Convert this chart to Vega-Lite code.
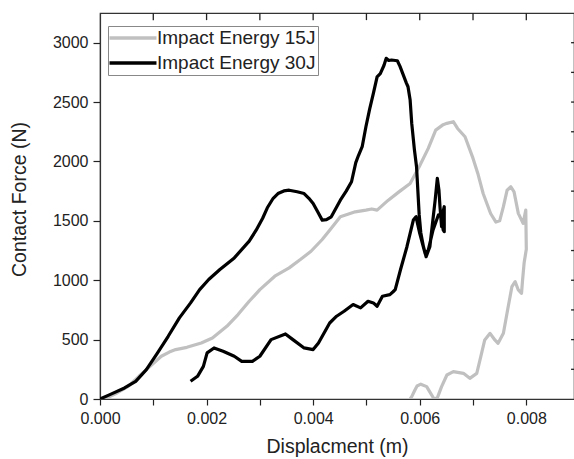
{
"$schema": "https://vega.github.io/schema/vega-lite/v6.json",
"width": 474, "height": 386,
"autosize": {"type": "none"},
"padding": {"left": 100, "top": 13, "right": 0, "bottom": 60},
"config": {"view": {"stroke": "#333", "strokeWidth": 1.2}, "font": "Liberation Sans",
  "axis": {"grid": false, "domainColor": "#333", "domainWidth": 1.2, "tickColor": "#222", "tickWidth": 1.2, "labelFont": "Liberation Sans", "labelFontSize": 16, "labelColor": "#222", "titleFont": "Liberation Sans", "titleFontSize": 19.5, "titleFontWeight": "normal", "titleColor": "#222"}},
"datasets": {
"ticksx": [{"t":0.001},{"t":0.002},{"t":0.003},{"t":0.004},{"t":0.005},{"t":0.006},{"t":0.007},{"t":0.008}],
"ticksy": [{"t":250},{"t":500},{"t":750},{"t":1000},{"t":1250},{"t":1500},{"t":1750},{"t":2000},{"t":2250},{"t":2500},{"t":2750},{"t":3000}]
},
"data": {"values": [
{"s":"Impact Energy 15J","i":0,"x":0,"y":0},
{"s":"Impact Energy 15J","i":1,"x":0.00015,"y":15},
{"s":"Impact Energy 15J","i":2,"x":0.00032,"y":51},
{"s":"Impact Energy 15J","i":3,"x":0.00053,"y":107},
{"s":"Impact Energy 15J","i":4,"x":0.00073,"y":191},
{"s":"Impact Energy 15J","i":5,"x":0.00094,"y":275},
{"s":"Impact Energy 15J","i":6,"x":0.00115,"y":360},
{"s":"Impact Energy 15J","i":7,"x":0.0013,"y":395},
{"s":"Impact Energy 15J","i":8,"x":0.00142,"y":416},
{"s":"Impact Energy 15J","i":9,"x":0.00163,"y":435},
{"s":"Impact Energy 15J","i":10,"x":0.0019,"y":472},
{"s":"Impact Energy 15J","i":11,"x":0.00211,"y":514},
{"s":"Impact Energy 15J","i":12,"x":0.00238,"y":612},
{"s":"Impact Energy 15J","i":13,"x":0.00259,"y":711},
{"s":"Impact Energy 15J","i":14,"x":0.0028,"y":823},
{"s":"Impact Energy 15J","i":15,"x":0.003,"y":921},
{"s":"Impact Energy 15J","i":16,"x":0.00328,"y":1034},
{"s":"Impact Energy 15J","i":17,"x":0.00355,"y":1104},
{"s":"Impact Energy 15J","i":18,"x":0.00376,"y":1174},
{"s":"Impact Energy 15J","i":19,"x":0.00396,"y":1244},
{"s":"Impact Energy 15J","i":20,"x":0.00417,"y":1343},
{"s":"Impact Energy 15J","i":21,"x":0.00431,"y":1421},
{"s":"Impact Energy 15J","i":22,"x":0.00451,"y":1534},
{"s":"Impact Energy 15J","i":23,"x":0.00479,"y":1576},
{"s":"Impact Energy 15J","i":24,"x":0.00499,"y":1590},
{"s":"Impact Energy 15J","i":25,"x":0.0051,"y":1600},
{"s":"Impact Energy 15J","i":26,"x":0.0052,"y":1590},
{"s":"Impact Energy 15J","i":27,"x":0.00541,"y":1674},
{"s":"Impact Energy 15J","i":28,"x":0.00561,"y":1744},
{"s":"Impact Energy 15J","i":29,"x":0.00582,"y":1815},
{"s":"Impact Energy 15J","i":30,"x":0.00599,"y":1955},
{"s":"Impact Energy 15J","i":31,"x":0.00616,"y":2110},
{"s":"Impact Energy 15J","i":32,"x":0.0063,"y":2264},
{"s":"Impact Energy 15J","i":33,"x":0.00644,"y":2310},
{"s":"Impact Energy 15J","i":34,"x":0.00651,"y":2321},
{"s":"Impact Energy 15J","i":35,"x":0.00663,"y":2335},
{"s":"Impact Energy 15J","i":36,"x":0.00671,"y":2278},
{"s":"Impact Energy 15J","i":37,"x":0.00685,"y":2208},
{"s":"Impact Energy 15J","i":38,"x":0.00699,"y":2039},
{"s":"Impact Energy 15J","i":39,"x":0.00709,"y":1899},
{"s":"Impact Energy 15J","i":40,"x":0.00719,"y":1730},
{"s":"Impact Energy 15J","i":41,"x":0.00733,"y":1562},
{"s":"Impact Energy 15J","i":42,"x":0.00743,"y":1490},
{"s":"Impact Energy 15J","i":43,"x":0.0075,"y":1500},
{"s":"Impact Energy 15J","i":44,"x":0.00757,"y":1619},
{"s":"Impact Energy 15J","i":45,"x":0.00764,"y":1758},
{"s":"Impact Energy 15J","i":46,"x":0.00771,"y":1787},
{"s":"Impact Energy 15J","i":47,"x":0.00777,"y":1744},
{"s":"Impact Energy 15J","i":48,"x":0.00785,"y":1563},
{"s":"Impact Energy 15J","i":49,"x":0.00794,"y":1479},
{"s":"Impact Energy 15J","i":50,"x":0.00799,"y":1591},
{"s":"Impact Energy 15J","i":51,"x":0.008,"y":1260},
{"s":"Impact Energy 15J","i":52,"x":0.00796,"y":1150},
{"s":"Impact Energy 15J","i":53,"x":0.00793,"y":1000},
{"s":"Impact Energy 15J","i":54,"x":0.00791,"y":890},
{"s":"Impact Energy 15J","i":55,"x":0.00785,"y":918},
{"s":"Impact Energy 15J","i":56,"x":0.00779,"y":988},
{"s":"Impact Energy 15J","i":57,"x":0.00773,"y":946},
{"s":"Impact Energy 15J","i":58,"x":0.00766,"y":777},
{"s":"Impact Energy 15J","i":59,"x":0.00757,"y":553},
{"s":"Impact Energy 15J","i":60,"x":0.00747,"y":469},
{"s":"Impact Energy 15J","i":61,"x":0.00741,"y":497},
{"s":"Impact Energy 15J","i":62,"x":0.00732,"y":553},
{"s":"Impact Energy 15J","i":63,"x":0.00722,"y":497},
{"s":"Impact Energy 15J","i":64,"x":0.00713,"y":328},
{"s":"Impact Energy 15J","i":65,"x":0.00707,"y":216},
{"s":"Impact Energy 15J","i":66,"x":0.00694,"y":174},
{"s":"Impact Energy 15J","i":67,"x":0.00682,"y":216},
{"s":"Impact Energy 15J","i":68,"x":0.00663,"y":230},
{"s":"Impact Energy 15J","i":69,"x":0.00651,"y":202},
{"s":"Impact Energy 15J","i":70,"x":0.00641,"y":104},
{"s":"Impact Energy 15J","i":71,"x":0.00633,"y":10},
{"s":"Impact Energy 15J","i":72,"x":0.00627,"y":0},
{"s":"Impact Energy 15J","i":73,"x":0.0062,"y":51},
{"s":"Impact Energy 15J","i":74,"x":0.00613,"y":104},
{"s":"Impact Energy 15J","i":75,"x":0.00602,"y":125},
{"s":"Impact Energy 15J","i":76,"x":0.00595,"y":110},
{"s":"Impact Energy 15J","i":77,"x":0.00591,"y":76},
{"s":"Impact Energy 15J","i":78,"x":0.00585,"y":20},
{"s":"Impact Energy 15J","i":79,"x":0.00582,"y":0},
{"s":"Impact Energy 30J","i":0,"x":0,"y":0},
{"s":"Impact Energy 30J","i":1,"x":0.000185,"y":37},
{"s":"Impact Energy 30J","i":2,"x":0.00046,"y":93},
{"s":"Impact Energy 30J","i":3,"x":0.00067,"y":149},
{"s":"Impact Energy 30J","i":4,"x":0.00087,"y":247},
{"s":"Impact Energy 30J","i":5,"x":0.00108,"y":388},
{"s":"Impact Energy 30J","i":6,"x":0.00128,"y":528},
{"s":"Impact Energy 30J","i":7,"x":0.00149,"y":683},
{"s":"Impact Energy 30J","i":8,"x":0.0017,"y":809},
{"s":"Impact Energy 30J","i":9,"x":0.00187,"y":921},
{"s":"Impact Energy 30J","i":10,"x":0.00204,"y":1006},
{"s":"Impact Energy 30J","i":11,"x":0.00225,"y":1090},
{"s":"Impact Energy 30J","i":12,"x":0.00252,"y":1188},
{"s":"Impact Energy 30J","i":13,"x":0.0028,"y":1329},
{"s":"Impact Energy 30J","i":14,"x":0.00293,"y":1421},
{"s":"Impact Energy 30J","i":15,"x":0.00305,"y":1520},
{"s":"Impact Energy 30J","i":16,"x":0.00314,"y":1610},
{"s":"Impact Energy 30J","i":17,"x":0.00325,"y":1690},
{"s":"Impact Energy 30J","i":18,"x":0.00334,"y":1730},
{"s":"Impact Energy 30J","i":19,"x":0.00345,"y":1752},
{"s":"Impact Energy 30J","i":20,"x":0.00355,"y":1758},
{"s":"Impact Energy 30J","i":21,"x":0.0037,"y":1745},
{"s":"Impact Energy 30J","i":22,"x":0.00383,"y":1730},
{"s":"Impact Energy 30J","i":23,"x":0.00392,"y":1690},
{"s":"Impact Energy 30J","i":24,"x":0.004,"y":1646},
{"s":"Impact Energy 30J","i":25,"x":0.00408,"y":1580},
{"s":"Impact Energy 30J","i":26,"x":0.00417,"y":1506},
{"s":"Impact Energy 30J","i":27,"x":0.00425,"y":1510},
{"s":"Impact Energy 30J","i":28,"x":0.00434,"y":1534},
{"s":"Impact Energy 30J","i":29,"x":0.00442,"y":1600},
{"s":"Impact Energy 30J","i":30,"x":0.00451,"y":1674},
{"s":"Impact Energy 30J","i":31,"x":0.00462,"y":1750},
{"s":"Impact Energy 30J","i":32,"x":0.00472,"y":1829},
{"s":"Impact Energy 30J","i":33,"x":0.0048,"y":1990},
{"s":"Impact Energy 30J","i":34,"x":0.00485,"y":2050},
{"s":"Impact Energy 30J","i":35,"x":0.00492,"y":2124},
{"s":"Impact Energy 30J","i":36,"x":0.00499,"y":2292},
{"s":"Impact Energy 30J","i":37,"x":0.00506,"y":2440},
{"s":"Impact Energy 30J","i":38,"x":0.00513,"y":2573},
{"s":"Impact Energy 30J","i":39,"x":0.0052,"y":2713},
{"s":"Impact Energy 30J","i":40,"x":0.00526,"y":2740},
{"s":"Impact Energy 30J","i":41,"x":0.00533,"y":2810},
{"s":"Impact Energy 30J","i":42,"x":0.00537,"y":2868},
{"s":"Impact Energy 30J","i":43,"x":0.00542,"y":2850},
{"s":"Impact Energy 30J","i":44,"x":0.00547,"y":2854},
{"s":"Impact Energy 30J","i":45,"x":0.00558,"y":2848},
{"s":"Impact Energy 30J","i":46,"x":0.00563,"y":2800},
{"s":"Impact Energy 30J","i":47,"x":0.00568,"y":2742},
{"s":"Impact Energy 30J","i":48,"x":0.00575,"y":2660},
{"s":"Impact Energy 30J","i":49,"x":0.00578,"y":2629},
{"s":"Impact Energy 30J","i":50,"x":0.00582,"y":2517},
{"s":"Impact Energy 30J","i":51,"x":0.00585,"y":2320},
{"s":"Impact Energy 30J","i":52,"x":0.0059,"y":2100},
{"s":"Impact Energy 30J","i":53,"x":0.00594,"y":1956},
{"s":"Impact Energy 30J","i":54,"x":0.00599,"y":1550},
{"s":"Impact Energy 30J","i":55,"x":0.00602,"y":1400},
{"s":"Impact Energy 30J","i":56,"x":0.00607,"y":1282},
{"s":"Impact Energy 30J","i":57,"x":0.00612,"y":1198},
{"s":"Impact Energy 30J","i":58,"x":0.00619,"y":1282},
{"s":"Impact Energy 30J","i":59,"x":0.00624,"y":1480},
{"s":"Impact Energy 30J","i":60,"x":0.00629,"y":1676},
{"s":"Impact Energy 30J","i":61,"x":0.00633,"y":1858},
{"s":"Impact Energy 30J","i":62,"x":0.00636,"y":1760},
{"s":"Impact Energy 30J","i":63,"x":0.00638,"y":1619},
{"s":"Impact Energy 30J","i":64,"x":0.00641,"y":1451},
{"s":"Impact Energy 30J","i":65,"x":0.00644,"y":1580},
{"s":"Impact Energy 30J","i":66,"x":0.00646,"y":1619},
{"s":"Impact Energy 30J","i":67,"x":0.00646,"y":1409},
{"s":"Impact Energy 30J","i":68,"x":0.00644,"y":1423},
{"s":"Impact Energy 30J","i":69,"x":0.00641,"y":1535},
{"s":"Impact Energy 30J","i":70,"x":0.00635,"y":1549},
{"s":"Impact Energy 30J","i":71,"x":0.00625,"y":1423},
{"s":"Impact Energy 30J","i":72,"x":0.00616,"y":1254},
{"s":"Impact Energy 30J","i":73,"x":0.0061,"y":1227},
{"s":"Impact Energy 30J","i":74,"x":0.006,"y":1395},
{"s":"Impact Energy 30J","i":75,"x":0.00593,"y":1535},
{"s":"Impact Energy 30J","i":76,"x":0.00588,"y":1507},
{"s":"Impact Energy 30J","i":77,"x":0.00576,"y":1282},
{"s":"Impact Energy 30J","i":78,"x":0.00564,"y":1090},
{"s":"Impact Energy 30J","i":79,"x":0.00554,"y":921},
{"s":"Impact Energy 30J","i":80,"x":0.0055,"y":903},
{"s":"Impact Energy 30J","i":81,"x":0.00544,"y":879},
{"s":"Impact Energy 30J","i":82,"x":0.0053,"y":865},
{"s":"Impact Energy 30J","i":83,"x":0.0052,"y":781},
{"s":"Impact Energy 30J","i":84,"x":0.00513,"y":809},
{"s":"Impact Energy 30J","i":85,"x":0.00503,"y":823},
{"s":"Impact Energy 30J","i":86,"x":0.00489,"y":767},
{"s":"Impact Energy 30J","i":87,"x":0.00475,"y":795},
{"s":"Impact Energy 30J","i":88,"x":0.00458,"y":739},
{"s":"Impact Energy 30J","i":89,"x":0.00444,"y":697},
{"s":"Impact Energy 30J","i":90,"x":0.00431,"y":640},
{"s":"Impact Energy 30J","i":91,"x":0.0041,"y":472},
{"s":"Impact Energy 30J","i":92,"x":0.004,"y":416},
{"s":"Impact Energy 30J","i":93,"x":0.00383,"y":430},
{"s":"Impact Energy 30J","i":94,"x":0.00362,"y":500},
{"s":"Impact Energy 30J","i":95,"x":0.00348,"y":548},
{"s":"Impact Energy 30J","i":96,"x":0.00321,"y":500},
{"s":"Impact Energy 30J","i":97,"x":0.003,"y":360},
{"s":"Impact Energy 30J","i":98,"x":0.00286,"y":317},
{"s":"Impact Energy 30J","i":99,"x":0.00266,"y":317},
{"s":"Impact Energy 30J","i":100,"x":0.00252,"y":360},
{"s":"Impact Energy 30J","i":101,"x":0.00231,"y":402},
{"s":"Impact Energy 30J","i":102,"x":0.00214,"y":430},
{"s":"Impact Energy 30J","i":103,"x":0.00201,"y":388},
{"s":"Impact Energy 30J","i":104,"x":0.00194,"y":275},
{"s":"Impact Energy 30J","i":105,"x":0.00183,"y":191},
{"s":"Impact Energy 30J","i":106,"x":0.0017,"y":149}
]},
"layer": [
 {"data": {"name": "ticksx"},
  "mark": {"type": "rule", "color": "#222", "strokeWidth": 1.3},
  "encoding": {
   "x": {"field": "t", "type": "quantitative"},
   "y": {"datum": 3250},
   "y2": {"datum": 3190}
  }},
 {"data": {"name": "ticksy"},
  "mark": {"type": "rule", "color": "#222", "strokeWidth": 1.3},
  "encoding": {
   "y": {"field": "t", "type": "quantitative"},
   "x": {"datum": 0.00884},
   "x2": {"datum": 0.008895}
  }},
 {"mark": {"type": "line", "strokeWidth": 3.2, "clip": true, "strokeJoin": "round"},
  "encoding": {
   "x": {"field": "x", "type": "quantitative", "scale": {"domain": [0, 0.008895], "nice": false, "zero": false},
     "axis": {"orient": "bottom", "title": "Displacment (m)", "values": [0,0.001,0.002,0.003,0.004,0.005,0.006,0.007,0.008], "format": ".3f", "labelExpr": "round(datum.value*1000) % 2 === 0 ? datum.label : ''", "tickSize": 6, "labelPadding": 5, "titlePadding": 11, "labelFlush": false, "labelOverlap": false}},
   "y": {"field": "y", "type": "quantitative", "scale": {"domain": [0, 3250], "nice": false},
     "axis": {"orient": "left", "title": "Contact Force (N)", "titleY": 186, "values": [0,250,500,750,1000,1250,1500,1750,2000,2250,2500,2750,3000], "labelExpr": "datum.value % 500 === 0 ? datum.label : ''", "format": "d", "tickSize": 7, "labelPadding": 5, "titlePadding": 23, "labelOverlap": false}},
   "color": {"field": "s", "type": "nominal", "scale": {"domain": ["Impact Energy 15J", "Impact Energy 30J"], "range": ["#c0c0c0", "#000000"]},
     "legend": {"title": null, "orient": "none", "legendX": 8, "legendY": 13, "symbolType": "M-3,0H3", "symbolSize": 245, "symbolStrokeWidth": 3.5, "symbolOffset": 13, "labelFontSize": 19, "labelFont": "Liberation Sans", "labelColor": "#222", "strokeColor": "#888", "fillColor": "white", "padding": 2, "labelOffset": 14, "rowPadding": 5}},
   "order": {"field": "i", "type": "quantitative"}
  }}
]
}
